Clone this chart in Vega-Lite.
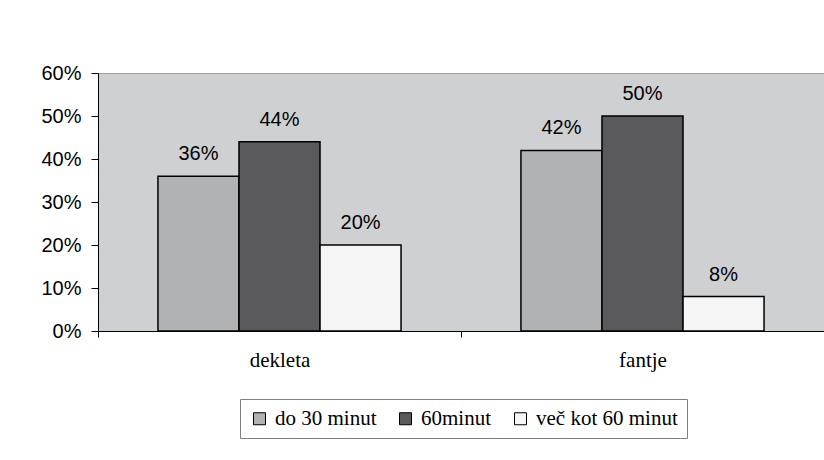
{
  "$schema": "https://vega.github.io/schema/vega-lite/v6.json",
  "width": 726,
  "height": 258,
  "autosize": "none",
  "padding": {"left": 98, "top": 73, "right": 0, "bottom": 129},
  "background": "white",
  "data": {
    "values": [
      {"spol": "dekleta", "cas": "do 30 minut", "delez": 0.36},
      {"spol": "dekleta", "cas": "60minut", "delez": 0.44},
      {"spol": "dekleta", "cas": "več kot 60 minut", "delez": 0.20},
      {"spol": "fantje", "cas": "do 30 minut", "delez": 0.42},
      {"spol": "fantje", "cas": "60minut", "delez": 0.50},
      {"spol": "fantje", "cas": "več kot 60 minut", "delez": 0.08}
    ]
  },
  "encoding": {
    "x": {
      "field": "spol",
      "type": "nominal",
      "sort": ["dekleta", "fantje"],
      "scale": {"paddingInner": 0, "paddingOuter": 0},
      "axis": {
        "title": null,
        "tickBand": "extent",
        "labelAngle": 0,
        "labelFont": "Liberation Serif",
        "labelFontSize": 21,
        "labelColor": "black",
        "tickColor": "black",
        "tickSize": 6,
        "domainColor": "black",
        "labelPadding": 12
      }
    },
    "xOffset": {
      "field": "cas",
      "type": "nominal",
      "sort": ["do 30 minut", "60minut", "več kot 60 minut"],
      "scale": {"paddingInner": 0, "paddingOuter": 0.74}
    },
    "y": {
      "field": "delez",
      "type": "quantitative",
      "scale": {"domain": [0, 0.6]},
      "axis": {
        "title": null,
        "values": [0, 0.1, 0.2, 0.3, 0.4, 0.5, 0.6],
        "format": ".0%",
        "grid": false,
        "tickSize": 7,
        "tickColor": "black",
        "domainColor": "black",
        "labelFont": "Liberation Sans",
        "labelFontSize": 20,
        "labelColor": "black",
        "labelPadding": 10
      }
    }
  },
  "layer": [
    {
      "mark": {"type": "bar", "stroke": "black", "strokeWidth": 1.5},
      "encoding": {
        "color": {
          "field": "cas",
          "type": "nominal",
          "sort": ["do 30 minut", "60minut", "več kot 60 minut"],
          "scale": {
            "domain": ["do 30 minut", "60minut", "več kot 60 minut"],
            "range": ["#b1b2b4", "#5a5a5c", "#f4f5f4"]
          },
          "legend": {
            "orient": "none",
            "legendX": 142,
            "legendY": 326,
            "direction": "horizontal",
            "title": null,
            "symbolType": "square",
            "symbolSize": 144,
            "symbolStrokeColor": "black",
            "symbolStrokeWidth": 1,
            "labelFont": "Liberation Serif",
            "labelFontSize": 21,
            "labelColor": "black",
            "labelOffset": 5,
            "labelLimit": 300,
            "columnPadding": 18,
            "padding": 9,
            "strokeColor": "#808080",
            "fillColor": "white"
          }
        }
      }
    },
    {
      "mark": {
        "type": "text",
        "baseline": "alphabetic",
        "dy": -16,
        "font": "Liberation Sans",
        "fontSize": 20,
        "fill": "black"
      },
      "encoding": {
        "text": {"field": "delez", "type": "quantitative", "format": ".0%"}
      }
    }
  ],
  "config": {
    "view": {"fill": "#cfd0d2", "stroke": "#a0a0a0"},
    "axis": {"domainWidth": 1, "tickWidth": 1}
  }
}
